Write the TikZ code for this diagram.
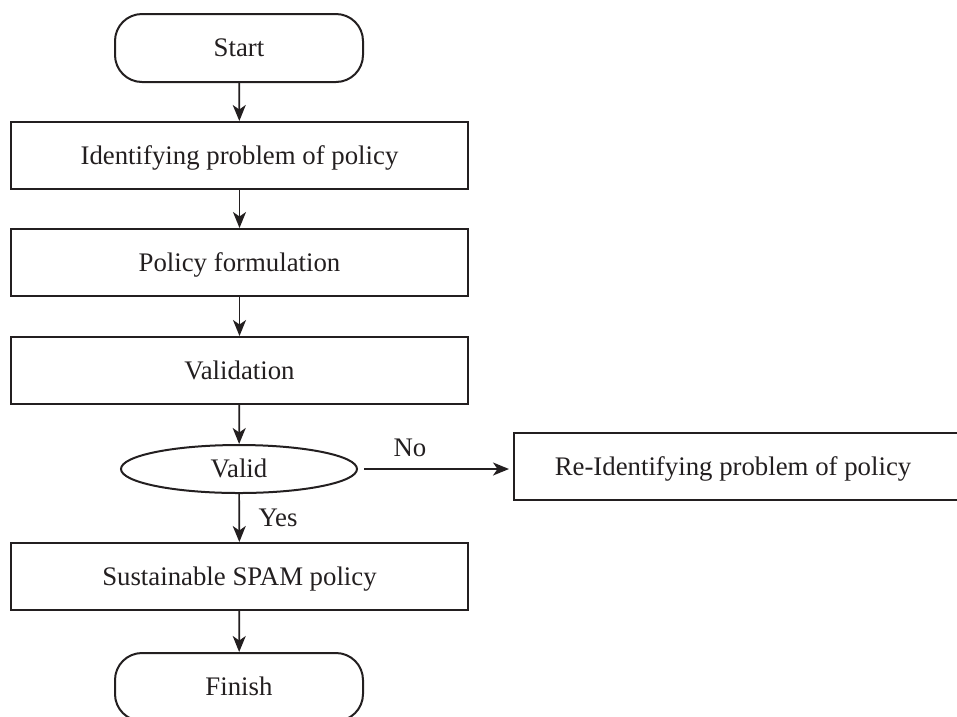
\documentclass[tikz,border=0pt]{standalone}
\usepackage{fontspec}
\setmainfont{Liberation Serif}
\usetikzlibrary{shapes.geometric,arrows.meta}
\definecolor{ink}{HTML}{231F20}
\tikzset{
  base/.style={font=\fontsize{26.8}{30}\selectfont,text=ink,inner sep=0pt,text height=17.7pt,text depth=0pt},
  box/.style={base,draw=ink,line width=2pt,minimum width=457pt,minimum height=67pt},
  term/.style={box,rounded corners=27pt,minimum width=248pt,minimum height=68pt},
  dec/.style={base,draw=ink,ellipse,line width=2pt,minimum width=236pt,minimum height=48pt},
  lab/.style={base},
  arr/.style={draw=ink,line width=1.7pt,-{Stealth[length=16pt,width=13pt,inset=4.5pt]}}
}
\begin{document}
\begin{tikzpicture}[x=1pt,y=-1pt]
\useasboundingbox (0,0) rectangle (957,716);
\node[term] (start) at (239,48) {Start};
\node[box] (ident) at (239.5,155.5) {Identifying problem of policy};
\node[box] (form) at (239.5,262.5) {Policy formulation};
\node[box] (valid) at (239.5,370.5) {Validation};
\node[dec] (dec) at (239,469) {Valid};
\node[box,anchor=west,minimum width=460pt] (reid) at (513,466.5) {};
\node[lab] at (733,466.5) {Re-Identifying problem of policy};
\node[box] (sust) at (239.5,576.5) {Sustainable SPAM policy};
\node[term] (fin) at (239,687) {Finish};
\node[lab] (no) at (410,448) {No};
\node[lab] (yes) at (278,518) {Yes};
\draw[arr] (start) -- (ident);
\draw[arr] (ident) -- (form);
\draw[arr] (form) -- (valid);
\draw[arr] (valid) -- (dec);
\draw[arr] (dec) -- (sust);
\draw[arr] (sust) -- (fin);
\draw[arr,shorten <=6pt,shorten >=4pt] (dec.east) -- (dec.east -| reid.west);
\end{tikzpicture}
\end{document}
